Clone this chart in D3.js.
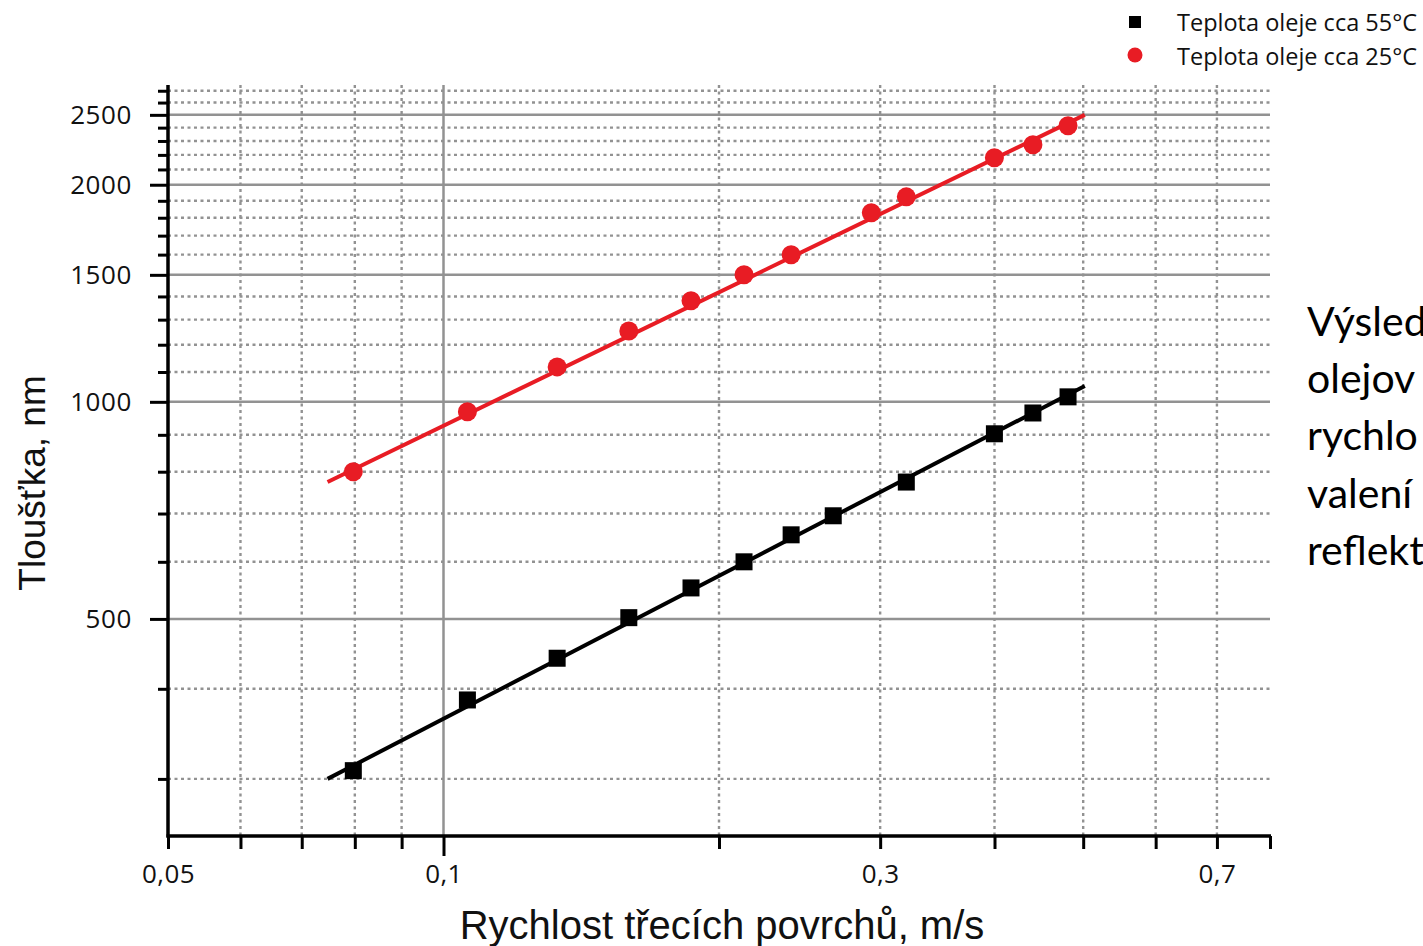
<!DOCTYPE html>
<html>
<head>
<meta charset="utf-8">
<script src="https://cdn.jsdelivr.net/npm/d3@7"></script>
<style>
  html, body { margin: 0; padding: 0; background: #fff; overflow: hidden; }
  svg { display: block; }
</style>
</head>
<body>
<svg id="chart" width="1423" height="946"></svg>
<script>
// ---- data ----
const series55Label = "Teplota oleje cca 55°C";
const series25Label = "Teplota oleje cca 25°C";
const speed55 = [0.0797, 0.1062, 0.1331, 0.1594, 0.1864, 0.2130, 0.2398, 0.2666, 0.3204, 0.3999, 0.4406, 0.4813];
const thick55 = [308, 386, 441, 502, 552, 600, 654, 695, 774, 903, 965, 1016];
const speed25 = [0.0797, 0.1062, 0.1331, 0.1594, 0.1864, 0.2130, 0.2398, 0.2934, 0.3204, 0.3999, 0.4406, 0.4813];
const thick25 = [800, 969, 1118, 1254, 1381, 1500, 1599, 1829, 1924, 2180, 2272, 2414];
const fitSpeed = [0.0747, 0.502];
const fit55 = [300, 1052];
const fit25 = [774, 2500];
const xTicks = [0.05, 0.06, 0.07, 0.08, 0.09, 0.1, 0.2, 0.3, 0.4, 0.5, 0.6, 0.7, 0.8];
const xTickLabels = {0.05: "0,05", 0.1: "0,1", 0.3: "0,3", 0.7: "0,7"};
const yMajor = [500, 1000, 1500, 2000, 2500];
const yMinor = [300, 400, 600, 700, 800, 900, 1100, 1200, 1300, 1400, 1600, 1700, 1800, 1900, 2100, 2200, 2300, 2400, 2600, 2700];
const xTitle = "Rychlost třecích povrchů, m/s";
const yTitle = "Tloušťka, nm";
const sideText = ["Výsled", "olejov", "rychlo", "valení", "reflekt"];

// ---- layout ----
const svg = d3.select("#chart");
const L = 168, R = 1270, T = 85, B = 836;
const x = d3.scaleLog().domain([0.05, 0.8]).range([L, R]);
const y = d3.scaleLog().domain([250, 2750]).range([B, T]);
const gridColor = "#929292";
const red = "#e81c24";
const tickFont = "'Open Sans', 'Noto Sans', sans-serif";

// grid: vertical
const g = svg.append("g");
g.selectAll("line.vg").data(xTicks.filter(v => v > 0.05 && v < 0.8)).enter().append("line")
  .attr("x1", d => x(d)).attr("x2", d => x(d)).attr("y1", T).attr("y2", B)
  .attr("stroke", gridColor)
  .attr("stroke-width", d => d === 0.1 ? 2.5 : 2.4)
  .attr("stroke-dasharray", d => d === 0.1 ? null : "3,3.5");
// grid: horizontal minor (dotted)
g.selectAll("line.hm").data(yMinor).enter().append("line")
  .attr("x1", L).attr("x2", R).attr("y1", d => y(d)).attr("y2", d => y(d))
  .attr("stroke", gridColor).attr("stroke-width", 2.4).attr("stroke-dasharray", "3,3.5");
// grid: horizontal major (solid)
g.selectAll("line.hM").data(yMajor).enter().append("line")
  .attr("x1", L).attr("x2", R).attr("y1", d => y(d)).attr("y2", d => y(d))
  .attr("stroke", gridColor).attr("stroke-width", 2.5);

// ---- axes ----
const yAxisMinor = svg.append("g").attr("transform", `translate(${L},0)`)
  .call(d3.axisLeft(y).tickValues(yMinor).tickSize(10).tickFormat(""));
const yAxisMajor = svg.append("g").attr("transform", `translate(${L},0)`)
  .call(d3.axisLeft(y).tickValues(yMajor).tickSize(18).tickPadding(18).tickFormat(d3.format("d")));
[yAxisMinor, yAxisMajor].forEach(a => {
  a.select(".domain").remove();
  a.selectAll(".tick line").attr("stroke", "#000").attr("stroke-width", 3);
});
yAxisMajor.selectAll(".tick text").attr("font-family", tickFont).attr("font-size", 26)
  .attr("letter-spacing", 0.6).attr("fill", "#111").attr("dy", "0.34em");

const xAxis = svg.append("g").attr("transform", `translate(0,${B})`)
  .call(d3.axisBottom(x).tickValues(xTicks).tickSize(12).tickPadding(12)
    .tickFormat(d => xTickLabels[d] || ""));
xAxis.select(".domain").remove();
xAxis.selectAll(".tick line").attr("stroke", "#000").attr("stroke-width", 3)
  .attr("y2", d => d === 0.1 ? 20 : 13);
xAxis.selectAll(".tick text").attr("font-family", tickFont).attr("font-size", 26)
  .attr("letter-spacing", 0.4).attr("fill", "#111").attr("dy", "0.9em");

// axis lines
svg.append("line").attr("x1", L).attr("x2", L).attr("y1", T).attr("y2", B + 1.5)
  .attr("stroke", "#000").attr("stroke-width", 3.5);
svg.append("line").attr("x1", L - 1.5).attr("x2", R + 1).attr("y1", B).attr("y2", B)
  .attr("stroke", "#000").attr("stroke-width", 3.5);

// ---- fit lines ----
const line = d3.line().x(d => x(d[0])).y(d => y(d[1]));
svg.append("path").datum(d3.zip(fitSpeed, fit55)).attr("d", line)
  .attr("fill", "none").attr("stroke", "#000").attr("stroke-width", 4);
svg.append("path").datum(d3.zip(fitSpeed, fit25)).attr("d", line)
  .attr("fill", "none").attr("stroke", red).attr("stroke-width", 4);

// ---- markers ----
const sq = 17;
svg.selectAll("rect.m55").data(d3.zip(speed55, thick55)).enter().append("rect")
  .attr("x", d => x(d[0]) - sq / 2).attr("y", d => y(d[1]) - sq / 2)
  .attr("width", sq).attr("height", sq).attr("fill", "#000");
svg.selectAll("circle.m25").data(d3.zip(speed25, thick25)).enter().append("circle")
  .attr("cx", d => x(d[0])).attr("cy", d => y(d[1])).attr("r", 9.5).attr("fill", red);

// ---- axis titles ----
svg.append("text").attr("x", (L + R) / 2 + 3).attr("y", 939)
  .attr("text-anchor", "middle").attr("font-family", "'Liberation Sans', Arial, sans-serif")
  .attr("font-size", 40).attr("fill", "#111").text(xTitle);
svg.append("text").attr("transform", "translate(45,483) rotate(-90)")
  .attr("text-anchor", "middle").attr("font-family", "'Liberation Sans', Arial, sans-serif")
  .attr("font-size", 37).attr("fill", "#111").text(yTitle);

// ---- legend ----
const lg = svg.append("g");
lg.append("rect").attr("x", 1129).attr("y", 16).attr("width", 12).attr("height", 12).attr("fill", "#000");
lg.append("circle").attr("cx", 1135).attr("cy", 55).attr("r", 7.5).attr("fill", red);
lg.append("text").attr("x", 1177).attr("y", 31).attr("font-family", tickFont)
  .attr("font-size", 23.5).attr("fill", "#111").text(series55Label);
lg.append("text").attr("x", 1177).attr("y", 65).attr("font-family", tickFont)
  .attr("font-size", 23.5).attr("fill", "#111").text(series25Label);

// ---- side text (cut off at the edge, as in the source) ----
svg.append("g").selectAll("text").data(sideText).enter().append("text")
  .attr("x", 1307).attr("y", (d, i) => 336 + i * 57.2)
  .attr("font-family", "Lato, 'Open Sans', sans-serif").attr("font-size", 41)
  .attr("fill", "#000").text(d => d);
</script>
</body>
</html>
